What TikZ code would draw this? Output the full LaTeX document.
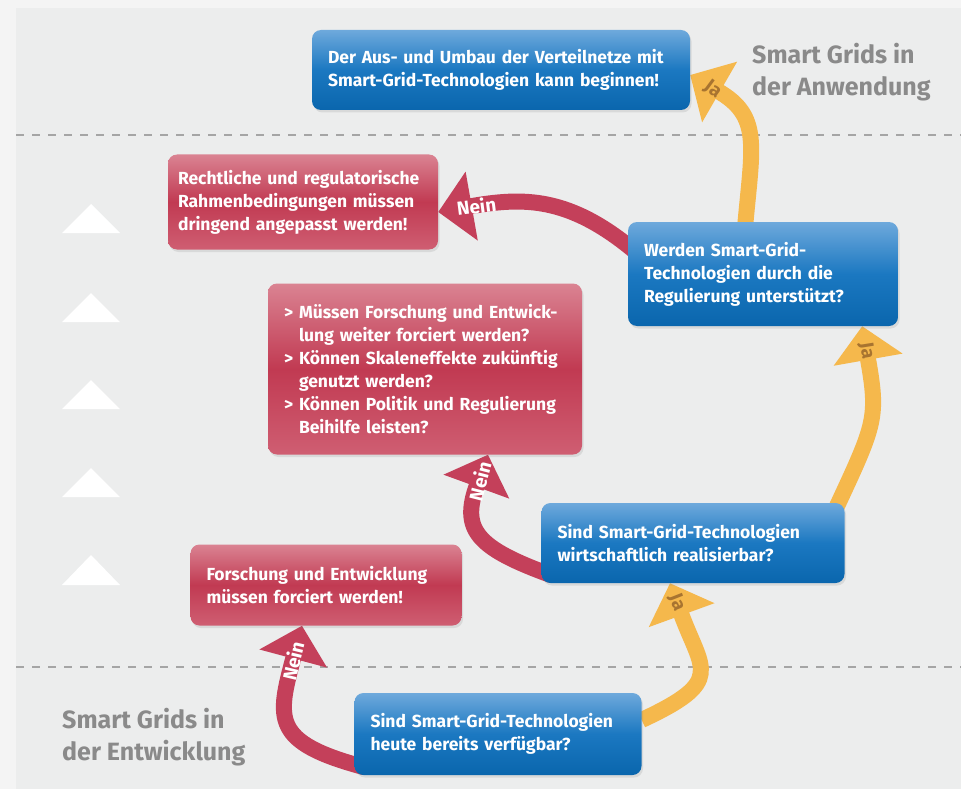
\documentclass[tikz,border=0pt]{standalone}
\usepackage{fontspec}
\setmainfont{Fira Sans}
\usetikzlibrary{arrows.meta,shadows}

\pgfdeclarelayer{background}
\pgfsetlayers{background,main}

\definecolor{panelgrey}{HTML}{ECEDED}
\definecolor{outergrey}{HTML}{F4F4F4}
\definecolor{dashgrey}{HTML}{A5A5A5}
\definecolor{headgrey}{HTML}{8A8A8A}
\definecolor{bluetop}{HTML}{6EA9DC}
\definecolor{bluemid}{HTML}{1B78C1}
\definecolor{bluebot}{HTML}{0A66AD}
\definecolor{redtop}{HTML}{DA8392}
\definecolor{redmid}{HTML}{C13A52}
\definecolor{redbot}{HTML}{CF5E72}
\definecolor{neinred}{HTML}{C4405A}
\definecolor{jayellow}{HTML}{F5B84C}
\definecolor{jatext}{HTML}{A87430}

\tikzset{
  box/.style={rounded corners=9pt, text=white, align=left,
    font=\bfseries\fontsize{17.5}{23}\selectfont, inner xsep=16pt, inner ysep=0pt,
    drop shadow={shadow xshift=1.5pt, shadow yshift=-2.5pt, opacity=0.18}},
  question/.style={box, top color=bluetop, bottom color=bluebot, middle color=bluemid},
  answer/.style={box, top color=redtop, bottom color=redbot, middle color=redmid},
  nein/.style={draw=neinred, line width=16pt, -{Triangle[width=68pt,length=34pt]}},
  ja/.style={draw=jayellow, line width=16pt, -{Triangle[width=68pt,length=34pt]}},
  neinlabel/.style={sloped, text=white, font=\bfseries\fontsize{19}{19}\selectfont},
  jalabel/.style={sloped, text=jatext, font=\bfseries\fontsize{19}{19}\selectfont},
  phase/.style={text=headgrey, align=left, inner sep=0pt,
    font=\bfseries\fontsize{25}{32}\selectfont},
  phaseline/.style={draw=dashgrey, line width=2.2pt, dash pattern=on 8pt off 8pt}
}

\begin{document}
\begin{tikzpicture}[x=1pt, y=1pt]
  \useasboundingbox (0,0) rectangle (961,-789);

  % panel, phase borders and the level marks
  \begin{pgfonlayer}{background}
    \fill[outergrey] (0,0) rectangle (961,-789);
    \fill[panelgrey] (16,-8) rectangle (961,-789);
    \draw[phaseline] (16,-135) -- (961,-135);
    \draw[phaseline] (16,-667) -- (961,-667);
    \fill[white] (62,-233) -- (91,-204) -- (120,-233) -- cycle;
    \fill[white] (62,-322) -- (91,-293) -- (120,-322) -- cycle;
    \fill[white] (62,-409) -- (91,-380) -- (120,-409) -- cycle;
    \fill[white] (62,-497) -- (91,-468) -- (120,-497) -- cycle;
    \fill[white] (62,-585) -- (91,-555) -- (120,-585) -- cycle;
  \end{pgfonlayer}

  \node[phase, anchor=north west] (anwendung) at (752,-43) {Smart Grids in\\der Anwendung};
  \node[phase, anchor=north west] (entwicklung) at (62,-708) {Smart Grids in\\der Entwicklung};

  % questions and answers
  \node[question, text width=346pt, minimum height=80pt] (ausbau) at (501,-70)
    {Der Aus- und Umbau der Verteilnetze mit\\Smart-Grid-Technologien kann beginnen!};
  \node[answer, text width=250pt, inner xsep=10pt, minimum height=95pt] (rahmen) at (303,-202)
    {Rechtliche und regulatorische\\Rahmenbedingungen müssen\\dringend angepasst werden!};
  \node[question, text width=238pt, minimum height=104pt] (regulierung) at (763,-274)
    {Werden Smart-Grid-\\Technologien durch die\\Regulierung unterstützt?};
  \node[answer, text width=282pt, minimum height=171pt] (fragen) at (425,-369)
    {\makebox[15pt][l]{>}Müssen Forschung und Entwick-\\
     \hspace*{15pt}lung weiter forciert werden?\\
     \makebox[15pt][l]{>}Können Skaleneffekte zukünftig\\
     \hspace*{15pt}genutzt werden?\\
     \makebox[15pt][l]{>}Können Politik und Regulierung\\
     \hspace*{15pt}Beihilfe leisten?};
  \node[question, text width=271pt, minimum height=80pt] (wirtschaft) at (693,-543)
    {Sind Smart-Grid-Technologien\\wirtschaftlich realisierbar?};
  \node[answer, text width=239pt, minimum height=81pt] (forschung) at (326,-585)
    {Forschung und Entwicklung\\müssen forciert werden!};
  \node[question, text width=255pt, minimum height=82pt] (verfuegbar) at (498,-734)
    {Sind Smart-Grid-Technologien\\heute bereits verfügbar?};

  % yes / no arrows
  \begin{pgfonlayer}{background}
    \draw[nein] ([shift={(10,8)}]verfuegbar.south west) to[out=165, in=255, looseness=1.6]
      node[neinlabel, pos=0.86] {Nein} ([xshift=-24pt]forschung.south);
    \draw[ja] ([yshift=14pt]verfuegbar.east) to[out=25, in=290, looseness=1.7]
      node[jalabel, pos=0.92] {Ja} ([xshift=-23pt]wirtschaft.south);
    \draw[nein] ([shift={(10,8)}]wirtschaft.south west) to[out=160, in=250, looseness=1.5]
      node[neinlabel, pos=0.87] {Nein} ([xshift=63pt]fragen.south);
    \draw[ja] ([shift={(-8,-4)}]wirtschaft.north east) to[out=65, in=280, looseness=1.3]
      node[jalabel, pos=0.9] {Ja} ([xshift=-36pt]regulierung.south east);
    \draw[nein] ([shift={(8,22)}]regulierung.west) to[out=140, in=10, looseness=1.1]
      node[neinlabel, pos=0.84] {Nein} ([yshift=-10pt]rahmen.east);
    \draw[ja] ([shift={(-18,-6)}]regulierung.north) to[out=85, in=330, looseness=1.3]
      node[jalabel, pos=0.88] {Ja} ([yshift=-5pt]ausbau.east);
  \end{pgfonlayer}
\end{tikzpicture}
\end{document}
